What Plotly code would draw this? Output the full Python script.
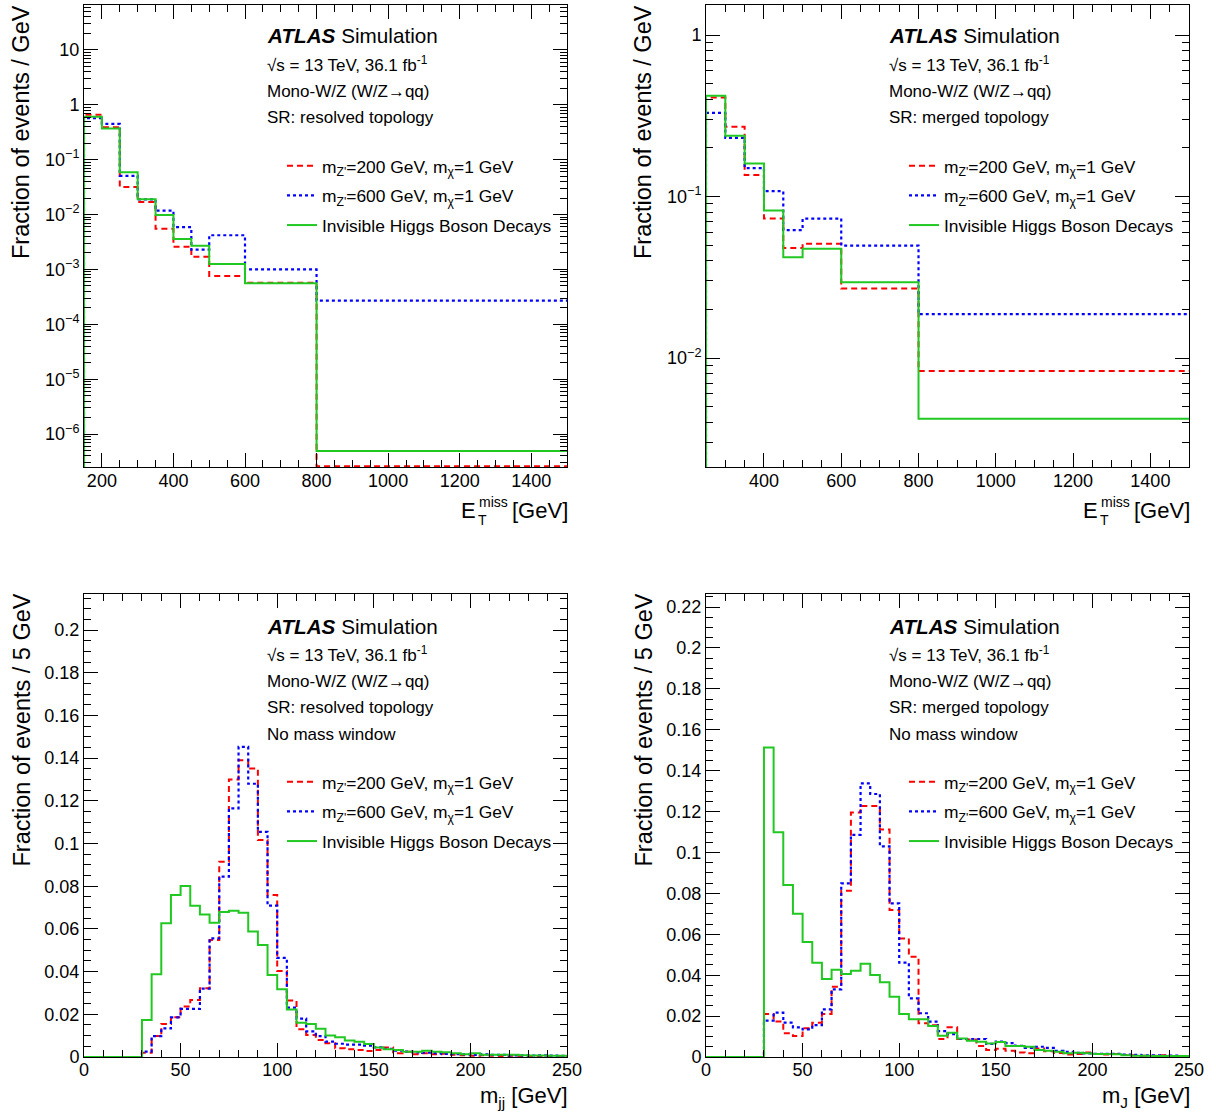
import plotly.graph_objects as go

W, H = 1216, 1115
FONT = "Liberation Sans, Arial, Helvetica, sans-serif"

# ---------------- data ----------------
# Top-left: E_T^miss, resolved topology (fraction of events / GeV)
met_res_edges = [150, 200, 250, 300, 350, 400, 450, 500, 600, 800, 1500]
met_res_z200 = [0.66, 0.39, 0.032, 0.017, 0.0055, 0.0026, 0.0017, 0.00076, 0.00057, 2.6e-7]
met_res_z600 = [0.57, 0.45, 0.051, 0.019, 0.0118, 0.0059, 0.0023, 0.0042, 0.0010, 0.00027]
met_res_hinv = [0.61, 0.37, 0.059, 0.019, 0.0098, 0.0036, 0.0027, 0.00126, 0.00056, 4.9e-7]

# Top-right: E_T^miss, merged topology
met_mer_edges = [250, 300, 350, 400, 450, 500, 600, 800, 1500]
met_mer_z200 = [0.41, 0.27, 0.136, 0.073, 0.048, 0.051, 0.0269, 0.0083]
met_mer_z600 = [0.33, 0.231, 0.15, 0.108, 0.062, 0.073, 0.0496, 0.0187]
met_mer_hinv = [0.42, 0.238, 0.16, 0.082, 0.042, 0.0475, 0.0294, 0.0042]

# Bottom: mass distributions, 5 GeV bins from 0 to 250
mass_edges = list(range(0, 255, 5))

mjj_z200 = [0, 0, 0, 0, 0, 0,
            0.002, 0.0098, 0.0155, 0.0186, 0.0236, 0.0267, 0.0322, 0.0548, 0.0915, 0.130,
            0.139, 0.1352, 0.1016, 0.0759, 0.0403, 0.0265, 0.013, 0.0103, 0.008, 0.0064,
            0.0041, 0.0036, 0.0033, 0.0028, 0.0033, 0.0045, 0.0017, 0.0025, 0.0013, 0.0017,
            0.0013, 0.0015, 0.0010, 0.0008, 0.0006, 0.0008, 0.0006, 0.0005, 0.0006, 0.0004,
            0.0005, 0.0004, 0.0005, 0.0003]
mjj_z600 = [0, 0, 0, 0, 0, 0,
            0.0025, 0.0098, 0.0134, 0.0186, 0.0225, 0.0225, 0.032, 0.0556, 0.0845, 0.1165,
            0.1453, 0.128, 0.1055, 0.0709, 0.0464, 0.0231, 0.018, 0.012, 0.0098, 0.0072,
            0.0062, 0.0058, 0.0058, 0.0053, 0.0045, 0.0038, 0.0030, 0.0025, 0.0022, 0.0020,
            0.0018, 0.0015, 0.0013, 0.0012, 0.0010, 0.0012, 0.0010, 0.0010, 0.0008, 0.0008,
            0.0007, 0.0008, 0.0006, 0.0005]
mjj_hinv = [0, 0, 0, 0, 0, 0,
            0.0173, 0.0388, 0.0626, 0.0759, 0.0801, 0.0708, 0.0668, 0.0629, 0.0679, 0.0685,
            0.0676, 0.0588, 0.0525, 0.0384, 0.0317, 0.0223, 0.0161, 0.0155, 0.0132, 0.0101,
            0.0093, 0.0077, 0.0072, 0.0061, 0.0044, 0.0036, 0.0033, 0.0025, 0.0025, 0.0029,
            0.0025, 0.0022, 0.0017, 0.0013, 0.0017, 0.0011, 0.0010, 0.0010, 0.0010, 0.0008,
            0.0007, 0.0007, 0.0006, 0.0006]

mJ_z200 = [0, 0, 0, 0, 0, 0,
           0.021, 0.0173, 0.0116, 0.0103, 0.014, 0.0168, 0.021, 0.0344, 0.0813, 0.1195,
           0.1227, 0.1227, 0.1113, 0.0719, 0.058, 0.049, 0.0165, 0.0155, 0.0088, 0.0145,
           0.0088, 0.0085, 0.0054, 0.0034, 0.0040, 0.0030, 0.0022, 0.0018, 0.0042, 0.0028,
           0.0020, 0.0012, 0.0015, 0.0022, 0.0015, 0.0012, 0.0015, 0.0010, 0.0008, 0.0006,
           0.0006, 0.0008, 0.0005, 0.0004]
mJ_z600 = [0, 0, 0, 0, 0, 0,
           0.0178, 0.0217, 0.0168, 0.0145, 0.0135, 0.0156, 0.0233, 0.0331, 0.0849, 0.1086,
           0.1338, 0.1286, 0.103, 0.0751, 0.0461, 0.0287, 0.0214, 0.0173, 0.0127, 0.0112,
           0.0088, 0.0088, 0.0088, 0.0064, 0.0075, 0.0068, 0.0055, 0.0045, 0.0050, 0.0045,
           0.0030, 0.0025, 0.0020, 0.0018, 0.0016, 0.0015, 0.0016, 0.0012, 0.0010, 0.0008,
           0.0008, 0.0006, 0.0007, 0.0005]
mJ_hinv = [0, 0, 0, 0, 0, 0,
           0.1514, 0.1099, 0.0841, 0.0701, 0.0562, 0.0461, 0.0381, 0.0427, 0.0406, 0.0422,
           0.0456, 0.0401, 0.0365, 0.0295, 0.021, 0.0184, 0.0184, 0.0152, 0.0104, 0.0119,
           0.009, 0.008, 0.0075, 0.0066, 0.0073, 0.0054, 0.0054, 0.0050, 0.0034, 0.0031,
           0.0026, 0.0018, 0.0021, 0.0018, 0.0015, 0.0015, 0.0013, 0.0009, 0.0006, 0.0006,
           0.0005, 0.0005, 0.0005, 0.0005]

series_names = ["m<sub>Z'</sub>=200 GeV, m<sub>χ</sub>=1 GeV",
                "m<sub>Z'</sub>=600 GeV, m<sub>χ</sub>=1 GeV",
                "Invisible Higgs Boson Decays"]
log_ticks_tl = [1e-6, 1e-5, 1e-4, 1e-3, 1e-2, 1e-1, 1, 10]
log_text_tl = ["10<sup>−6</sup>", "10<sup>−5</sup>", "10<sup>−4</sup>", "10<sup>−3</sup>",
               "10<sup>−2</sup>", "10<sup>−1</sup>", "1", "10"]
log_ticks_tr = [1e-2, 1e-1, 1]
log_text_tr = ["10<sup>−2</sup>", "10<sup>−1</sup>", "1"]

# ---------------- styles ----------------
STYLES = [dict(color="#ff0000", width=2, dash="6px,4px"),
          dict(color="#0000ff", width=2.2, dash="3px,3px"),
          dict(color="#22c822", width=2, dash="solid")]


def px(x):
    return x / W


def py(y):
    return 1 - y / H


def step(edges, vals, floor):
    x = [edges[0]] + list(edges)
    y = [floor] + list(vals) + [vals[-1]]
    return x, y


fig = go.Figure()

panels = [
    ("x", "y", "legend", met_res_edges, [met_res_z200, met_res_z600, met_res_hinv], 1e-12),
    ("x2", "y2", "legend2", met_mer_edges, [met_mer_z200, met_mer_z600, met_mer_hinv], 1e-12),
    ("x3", "y3", "legend3", mass_edges, [mjj_z200, mjj_z600, mjj_hinv], 0),
    ("x4", "y4", "legend4", mass_edges, [mJ_z200, mJ_z600, mJ_hinv], 0),
]
for xa, ya, lg, edges, series, floor in panels:
    for i, (name, vals, st) in enumerate(zip(series_names, series, STYLES)):
        xs, ys = step(edges, vals, floor)
        fig.add_trace(go.Scatter(x=xs, y=ys, mode="lines", line_shape="hv", name=name,
                                 line=st, xaxis=xa, yaxis=ya, legend=lg,
                                 legendgroup=f"{lg}_{i}", hoverinfo="skip"))

XL = (84, 567)
XR = (706, 1189)
YT = (5, 467)
YB = (594, 1057)


def dom_x(a):
    return [px(a[0]), px(a[1])]


def dom_y(a):
    return [py(a[1]), py(a[0])]


def axis_common(**kw):
    d = dict(ticks="inside", ticklen=14, tickwidth=1, tickcolor="black",
             showline=True, linecolor="black", linewidth=1, mirror="allticks",
             showgrid=False, zeroline=False,
             tickfont=dict(size=18, family=FONT, color="black"))
    d.update(kw)
    return d


minor_lin = lambda dt: dict(dtick=dt, ticks="inside", ticklen=7, tickcolor="black", showgrid=False)
minor_log = dict(dtick="D1", ticks="inside", ticklen=7, tickcolor="black", showgrid=False)

fig.update_layout(
    width=W, height=H, margin=dict(l=0, r=0, t=0, b=0, autoexpand=False),
    paper_bgcolor="white", plot_bgcolor="white",
    font=dict(family=FONT, color="black", size=17),
    xaxis=axis_common(domain=dom_x(XL), range=[150, 1500], dtick=200, tick0=0,
                      minor=minor_lin(50), anchor="y", ticklabelstandoff=-3),
    yaxis=axis_common(domain=dom_y(YT), type="log", range=[-6.6, 1.82], tickmode="array",
                      tickvals=log_ticks_tl, ticktext=log_text_tl, minor=minor_log, anchor="x"),
    xaxis2=axis_common(domain=dom_x(XR), range=[250, 1500], dtick=200, tick0=0,
                       minor=minor_lin(50), anchor="y2", ticklabelstandoff=-3),
    yaxis2=axis_common(domain=dom_y(YT), type="log", range=[-2.675, 0.186], tickmode="array",
                       tickvals=log_ticks_tr, ticktext=log_text_tr, minor=minor_log, anchor="x2"),
    xaxis3=axis_common(domain=dom_x(XL), range=[0, 250], dtick=50, tick0=0,
                       minor=minor_lin(10), anchor="y3", ticklabelstandoff=-4),
    yaxis3=axis_common(domain=dom_y(YB), range=[0, 0.2169], dtick=0.02, tick0=0,
                       minor=minor_lin(0.005), anchor="x3"),
    xaxis4=axis_common(domain=dom_x(XR), range=[0, 250], dtick=50, tick0=0,
                       minor=minor_lin(10), anchor="y4", ticklabelstandoff=-4),
    yaxis4=axis_common(domain=dom_y(YB), range=[0, 0.2264], dtick=0.02, tick0=0,
                       minor=minor_lin(0.005), anchor="x4"),
)

leg_common = dict(xanchor="left", yanchor="top", bgcolor="rgba(0,0,0,0)", borderwidth=0,
                  font=dict(size=17.4, family=FONT, color="black"), traceorder="grouped",
                  tracegroupgap=4, itemwidth=30)
fig.update_layout(
    legend=dict(x=px(282), y=py(148), **leg_common),
    legend2=dict(x=px(904), y=py(148), **leg_common),
    legend3=dict(x=px(282), y=py(764), **leg_common),
    legend4=dict(x=px(904), y=py(764), **leg_common),
)

annotations = []


def ann(text, x, y, size, xanchor="left", yanchor="middle", angle=0):
    annotations.append(dict(text=text, x=px(x), y=py(y), xref="paper", yref="paper",
                            showarrow=False, xanchor=xanchor, yanchor=yanchor, textangle=angle,
                            font=dict(size=size, family=FONT, color="black")))


for x0, ytop, topo, extra in [(265, 37, "resolved", False), (887, 37, "merged", False),
                              (265, 627, "resolved", True), (887, 627, "merged", True)]:
    ann("<b><i>ATLAS</i></b> Simulation", x0, ytop - 1, 20.7)
    ann("√s = 13 TeV, 36.1 fb<sup>-1</sup>", x0, ytop + 27, 17)
    ann("Mono-W/Z (W/Z→qq)", x0, ytop + 55, 17)
    ann("SR: " + topo + " topology", x0, ytop + 80, 17)
    if extra:
        ann("No mass window", x0, ytop + 107, 17)

# y-axis titles
ann("Fraction of events / GeV", 21, 3, 23.5, xanchor="center", yanchor="top", angle=-90)
ann("Fraction of events / GeV", 643, 3, 23.5, xanchor="center", yanchor="top", angle=-90)
ann("Fraction of events / 5 GeV", 21, 592, 23.5, xanchor="center", yanchor="top", angle=-90)
ann("Fraction of events / 5 GeV", 643, 592, 23.5, xanchor="center", yanchor="top", angle=-90)

# x-axis titles
for xr in (567, 1189):
    ann("[GeV]", xr + 3, 510, 22, xanchor="right")
    ann("E", xr - 108, 510, 22, xanchor="left")
    ann("miss", xr - 90, 502, 14, xanchor="left")
    ann("T", xr - 91, 520, 14, xanchor="left")
ann("m<sub>jj</sub> [GeV]", 570, 1097, 22, xanchor="right")
ann("m<sub>J</sub> [GeV]", 1192, 1097, 22, xanchor="right")

fig.update_layout(annotations=annotations)

fig.write_html("out.html")
